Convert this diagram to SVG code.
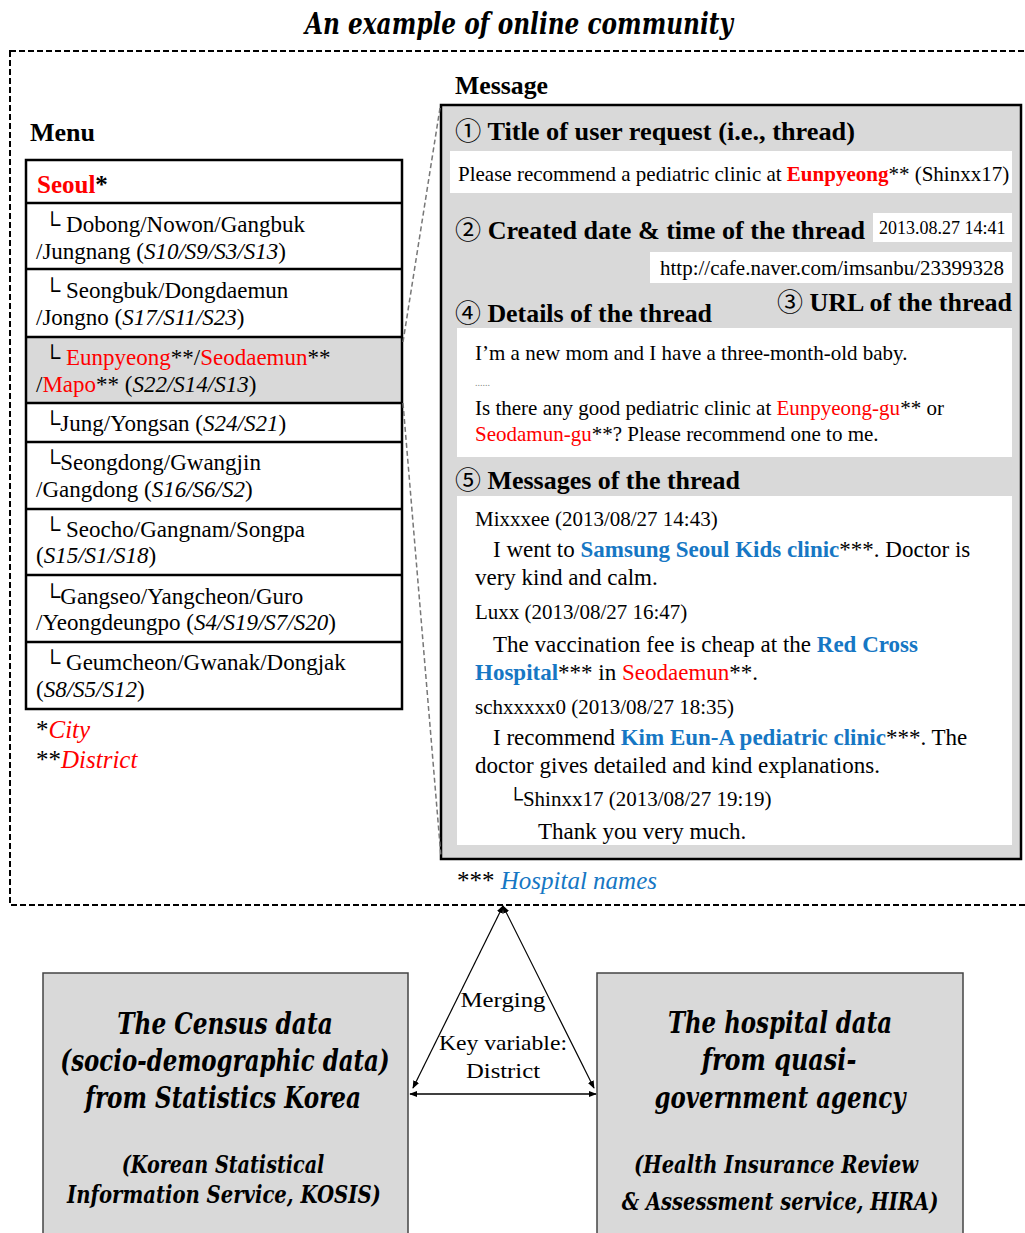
<svg xmlns="http://www.w3.org/2000/svg" width="1025" height="1233" viewBox="0 0 1025 1233">
<style>
text{font-family:"Liberation Serif","Times New Roman",serif;fill:#000}
.c{font-family:"Noto Sans CJK KR","DejaVu Sans",sans-serif;font-weight:normal}
.hd{font-weight:bold;font-size:25px}
.mn{font-size:23px}
.ms{font-size:21px}
.mb{font-size:23px}
.r{fill:#ff0000}
.b{fill:#1677c4;font-weight:bold}
.i{font-style:italic}
.big{font-family:"DejaVu Serif",serif;font-weight:bold;font-style:italic;font-size:30px;text-anchor:middle}
.sub{font-family:"DejaVu Serif",serif;font-weight:bold;font-style:italic;font-size:24px;text-anchor:middle}
.mg{font-size:21px}
.wb{fill:#fff;stroke:none}
</style>
<defs>
<marker id="ah" viewBox="0 0 10 10" refX="9" refY="5" markerWidth="8" markerHeight="8" orient="auto-start-reverse" markerUnits="userSpaceOnUse"><path d="M0,1 L10,5 L0,9 z" fill="#000"/></marker>
</defs>
<rect width="1025" height="1233" fill="#fff"/>
<text transform="translate(519,34) scale(0.8,1)" class="big" textLength="535" lengthAdjust="spacingAndGlyphs">An example of online community</text>
<rect x="10" y="51" width="1030" height="854" fill="none" stroke="#000" stroke-width="2" stroke-dasharray="6,3"/>

<g id="menu">
<text x="30" y="141" class="hd" textLength="65" lengthAdjust="spacingAndGlyphs">Menu</text>
<rect x="26" y="337" width="376" height="66" fill="#d9d9d9"/>
<rect x="26" y="160" width="376" height="549" fill="none" stroke="#000" stroke-width="2.5"/>
<g stroke="#000" stroke-width="2.5">
<line x1="26" y1="203" x2="402" y2="203"/><line x1="26" y1="269" x2="402" y2="269"/><line x1="26" y1="337" x2="402" y2="337"/><line x1="26" y1="403" x2="402" y2="403"/><line x1="26" y1="442" x2="402" y2="442"/><line x1="26" y1="509" x2="402" y2="509"/><line x1="26" y1="575" x2="402" y2="575"/><line x1="26" y1="642" x2="402" y2="642"/>
</g>
<text x="37" y="193" style="font-size:25px;font-weight:bold"><tspan class="r">Seoul</tspan>*</text>
<text x="44" y="232" class="mn">└ Dobong/Nowon/Gangbuk</text>
<text x="36" y="259" class="mn">/Jungnang (<tspan class="i">S10/S9/S3/S13</tspan>)</text>
<text x="44" y="298" class="mn">└ Seongbuk/Dongdaemun</text>
<text x="36" y="325" class="mn">/Jongno (<tspan class="i">S17/S11/S23</tspan>)</text>
<text x="44" y="365" class="mn">└ <tspan class="r">Eunpyeong</tspan>**/<tspan class="r">Seodaemun</tspan>**</text>
<text x="36" y="392" class="mn">/<tspan class="r">Mapo</tspan>** (<tspan class="i">S22/S14/S13</tspan>)</text>
<text x="44" y="431" class="mn">└Jung/Yongsan (<tspan class="i">S24/S21</tspan>)</text>
<text x="44" y="470" class="mn">└Seongdong/Gwangjin</text>
<text x="36" y="497" class="mn">/Gangdong (<tspan class="i">S16/S6/S2</tspan>)</text>
<text x="44" y="537" class="mn">└ Seocho/Gangnam/Songpa</text>
<text x="36" y="563" class="mn">(<tspan class="i">S15/S1/S18</tspan>)</text>
<text x="44" y="604" class="mn">└Gangseo/Yangcheon/Guro</text>
<text x="36" y="630" class="mn">/Yeongdeungpo (<tspan class="i">S4/S19/S7/S20</tspan>)</text>
<text x="44" y="670" class="mn">└ Geumcheon/Gwanak/Dongjak</text>
<text x="36" y="697" class="mn">(<tspan class="i">S8/S5/S12</tspan>)</text>
<text x="36" y="738" style="font-size:25px">*<tspan class="r i">City</tspan></text>
<text x="36" y="768" style="font-size:25px">**<tspan class="r i">District</tspan></text>
</g>

<g id="message">
<text x="455" y="94" class="hd" textLength="93" lengthAdjust="spacingAndGlyphs">Message</text>
<rect x="441" y="105" width="580" height="754" fill="#d9d9d9" stroke="#000" stroke-width="2.5"/>
<text x="455" y="140" class="hd" textLength="400" lengthAdjust="spacingAndGlyphs"><tspan class="c">①</tspan> Title of user request (i.e., thread)</text>
<rect x="450" y="151" width="562" height="42" class="wb"/>
<text x="458" y="181" class="ms">Please recommend a pediatric clinic at <tspan class="r" font-weight="bold">Eunpyeong</tspan>** (Shinxx17)</text>
<text x="455" y="239" class="hd" textLength="410" lengthAdjust="spacingAndGlyphs"><tspan class="c">②</tspan> Created date &amp; time of the thread</text>
<rect x="873" y="213" width="139" height="29" class="wb"/>
<text x="879" y="234" style="font-size:18px">2013.08.27 14:41</text>
<rect x="650" y="252" width="362" height="31" class="wb"/>
<text x="660" y="275" class="ms">http://cafe.naver.com/imsanbu/23399328</text>
<text x="777" y="311" class="hd" textLength="235" lengthAdjust="spacingAndGlyphs"><tspan class="c">③</tspan> URL of the thread</text>
<text x="455" y="322" class="hd" textLength="257" lengthAdjust="spacingAndGlyphs"><tspan class="c">④</tspan> Details of the thread</text>
<rect x="457" y="328" width="555" height="129" class="wb"/>
<text x="475" y="360" class="ms">I’m a new mom and I have a three-month-old baby.</text>
<text x="475" y="386" style="font-size:10px;fill:#888">......</text>
<text x="475" y="415" class="ms">Is there any good pediatric clinic at <tspan class="r">Eunpyeong-gu</tspan>** or</text>
<text x="475" y="441" class="ms"><tspan class="r">Seodamun-gu</tspan>**? Please recommend one to me.</text>
<text x="455" y="489" class="hd" textLength="285" lengthAdjust="spacingAndGlyphs"><tspan class="c">⑤</tspan> Messages of the thread</text>
<rect x="457" y="496" width="555" height="349" class="wb"/>
<text x="475" y="526" class="ms">Mixxxee (2013/08/27 14:43)</text>
<text x="493" y="557" class="mb">I went to <tspan class="b">Samsung Seoul Kids clinic</tspan>***. Doctor is</text>
<text x="475" y="585" class="mb">very kind and calm.</text>
<text x="475" y="619" class="ms">Luxx (2013/08/27 16:47)</text>
<text x="493" y="652" class="mb">The vaccination fee is cheap at the <tspan class="b">Red Cross</tspan></text>
<text x="475" y="680" class="mb"><tspan class="b">Hospital</tspan>*** in <tspan class="r">Seodaemun</tspan>**.</text>
<text x="475" y="714" class="ms">schxxxxx0 (2013/08/27 18:35)</text>
<text x="493" y="745" class="mb">I recommend <tspan class="b">Kim Eun-A pediatric clinic</tspan>***. The</text>
<text x="475" y="773" class="mb">doctor gives detailed and kind explanations.</text>
<text x="508" y="806" class="ms">└Shinxx17 (2013/08/27 19:19)</text>
<text x="538" y="839" class="mb">Thank you very much.</text>
<text x="457" y="889" style="font-size:25px">*** <tspan class="i" style="fill:#1677c4">Hospital names</tspan></text>
</g>

<g id="census">
<rect x="43" y="973" width="365" height="270" fill="#d9d9d9" stroke="#444" stroke-width="1.5"/>
<text transform="translate(225,1034) scale(0.74,1)" class="big" textLength="291" lengthAdjust="spacingAndGlyphs">The Census data</text>
<text transform="translate(225,1071) scale(0.74,1)" class="big" textLength="445" lengthAdjust="spacingAndGlyphs">(socio-demographic data)</text>
<text transform="translate(223,1108) scale(0.74,1)" class="big" textLength="373" lengthAdjust="spacingAndGlyphs">from Statistics Korea</text>
<text transform="translate(223,1173) scale(0.74,1)" class="sub" textLength="274" lengthAdjust="spacingAndGlyphs">(Korean Statistical</text>
<text transform="translate(224,1203) scale(0.74,1)" class="sub" textLength="424" lengthAdjust="spacingAndGlyphs">Information Service, KOSIS)</text>
</g>

<g id="hospital">
<rect x="597" y="973" width="366" height="270" fill="#d9d9d9" stroke="#444" stroke-width="1.5"/>
<text transform="translate(780,1033) scale(0.74,1)" class="big" textLength="303" lengthAdjust="spacingAndGlyphs">The hospital data</text>
<text transform="translate(779,1070) scale(0.74,1)" class="big" textLength="209" lengthAdjust="spacingAndGlyphs">from quasi-</text>
<text transform="translate(780,1108) scale(0.74,1)" class="big" textLength="339" lengthAdjust="spacingAndGlyphs">government agency</text>
<text transform="translate(776,1173) scale(0.74,1)" class="sub" textLength="384" lengthAdjust="spacingAndGlyphs">(Health Insurance Review</text>
<text transform="translate(780,1210) scale(0.74,1)" class="sub" textLength="428" lengthAdjust="spacingAndGlyphs">&amp; Assessment service, HIRA)</text>
</g>

<g id="connectors">
<line x1="403" y1="342" x2="440" y2="108" stroke="#777" stroke-width="1.5" stroke-dasharray="5,3"/>
<line x1="403" y1="403" x2="441" y2="857" stroke="#777" stroke-width="1.5" stroke-dasharray="5,3"/>
<line x1="503" y1="906" x2="413" y2="1088" stroke="#000" stroke-width="1.2" marker-start="url(#ah)" marker-end="url(#ah)"/>
<line x1="503" y1="906" x2="594" y2="1088" stroke="#000" stroke-width="1.2" marker-start="url(#ah)" marker-end="url(#ah)"/>
<line x1="410" y1="1094" x2="596" y2="1094" stroke="#000" stroke-width="1.5" marker-start="url(#ah)" marker-end="url(#ah)"/>
<text x="503" y="1007" text-anchor="middle" class="mg" textLength="85" lengthAdjust="spacingAndGlyphs">Merging</text>
<text x="503" y="1050" text-anchor="middle" class="mg" textLength="128" lengthAdjust="spacingAndGlyphs">Key variable:</text>
<text x="503" y="1078" text-anchor="middle" class="mg" textLength="74" lengthAdjust="spacingAndGlyphs">District</text>
</g>
</svg>
